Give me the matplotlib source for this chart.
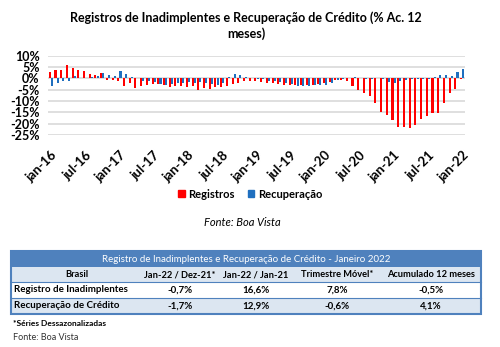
import numpy as np
import matplotlib.pyplot as plt
from matplotlib.patches import Patch, Rectangle

# % acumulado 12 meses, jan-16 .. jan-22 (mensal)
registros = [2.6, 3.5, 3.5, 5.9, 4.5, 3.5, 3.2, 1.9, 1.6, 2.3,
             -0.9, -0.9, -1.3, -3.4, -1.9, -4.4, -3.4, -2.8, -2.5, -2.3,
             -2.9, -3.7, -3.2, -3.2, -3.7, -3.4, -5.0, -4.4, -4.5, -3.7,
             -3.8, -3.4, -2.5, -1.9, -1.2, -1.3, -1.2, -1.6, -1.9, -2.2,
             -2.6, -2.9, -2.8, -2.9, -3.1, -3.1, -2.8, -2.6, -2.2, -1.5,
             -0.9, -0.7, -1.2, -3.4, -5.1, -6.6, -7.8, -11.0, -14.7, -16.3,
             -18.4, -21.4, -21.6, -21.7, -20.4, -17.8, -16.6, -15.4, -15.1, -11.0,
             -6.6, -4.5, -0.5]
recuperacao = [-3.4, -1.9, -1.2, -1.3, 1.2, 0.1, 0.1, 0.7, 1.0, 2.3,
               1.3, 1.2, 3.2, 2.0, 0.4, 0.0, -1.0, -1.2, -1.8, -2.3,
               -2.9, -2.6, -1.9, -2.2, -1.8, -2.2, -1.5, -1.9, -2.6, -2.9,
               -2.2, 0.7, 1.8, 1.5, 0.4, 0.1, -0.5, -0.5, -1.0, -1.0,
               -1.5, -2.2, -2.6, -3.4, -3.4, -3.5, -3.1, -2.9, -2.9, -2.2,
               -0.7, -0.3, 0.0, 0.4, 0.0, -0.4, -0.3, 0.0, -0.4, -1.5,
               -1.9, -1.3, -0.7, -0.4, -0.4, -0.4, -0.4, 0.7, 1.5, 1.5,
               1.0, 2.7, 4.1]
rotulos_x = ['jan-16', 'jul-16', 'jan-17', 'jul-17', 'jan-18', 'jul-18', 'jan-19',
             'jul-19', 'jan-20', 'jul-20', 'jan-21', 'jul-21', 'jan-22']

tab_titulo = 'Registro de Inadimplentes e Recuperação de Crédito - Janeiro 2022'
tab_cols = ['Brasil', 'Jan-22 / Dez-21*', 'Jan-22 / Jan-21', 'Trimestre Móvel*', 'Acumulado 12 meses']
tab_linhas = ['Registro de Inadimplentes', 'Recuperação de Crédito']
tab_valores = [['-0,7%', '16,6%', '7,8%', '-0,5%'],
               ['-1,7%', '12,9%', '-0,6%', '4,1%']]

plt.rcParams['font.family'] = ['Lato', 'DejaVu Sans']

fig = plt.figure(figsize=(5, 3.47), dpi=100)
# camada de fundo em pixels para titulo, legenda e tabela
bg = fig.add_axes([0, 0, 1, 1])
bg.set_xlim(0, 500)
bg.set_ylim(347, 0)
bg.axis('off')

ax = fig.add_axes([48 / 500, 1 - 135 / 347, 417 / 500, (135 - 55.7) / 347])
ax.set_facecolor('none')

x = np.arange(len(registros))
ax.bar(x - 0.19, registros, 0.36, color='#FF0000', zorder=3)
ax.bar(x + 0.19, recuperacao, 0.36, color='#1F6FBF', zorder=3)

ax.set_xlim(-0.5, len(registros) - 0.5)
ax.set_ylim(-25, 10)
ax.set_yticks(range(-25, 11, 5))
ax.set_yticklabels([f'{v}%' for v in range(-25, 11, 5)], fontsize=9, fontweight='bold')
ax.set_xticks(range(0, len(registros), 6))
ax.set_xticklabels(rotulos_x, rotation=45, ha='right', rotation_mode='anchor',
                   fontsize=9.5, fontweight='bold')
ax.tick_params(axis='y', length=0, pad=6)
ax.tick_params(axis='x', length=0, pad=10)
ax.grid(axis='y', color='#D9D9D9', linewidth=1.2, zorder=0)
for s in ax.spines.values():
    s.set_visible(False)

bg.text(246, 18, 'Registros de Inadimplentes e Recuperação de Crédito (% Ac. 12',
        ha='center', va='center', fontsize=9, fontweight='bold')
bg.text(246, 34, 'meses)', ha='center', va='center', fontsize=9, fontweight='bold')

fig.legend(handles=[Patch(color='#FF0000', label='Registros'),
                    Patch(color='#1F6FBF', label='Recuperação')],
           loc='center', bbox_to_anchor=(250 / 500, 1 - 194 / 347), ncol=2,
           frameon=False, handlelength=0.6, handleheight=0.6, handletextpad=0.3,
           columnspacing=1.2, prop={'weight': 'bold', 'size': 8})

bg.text(242, 222, 'Fonte: Boa Vista', ha='center', va='center', fontsize=8, style='italic')

# tabela
azul = '#4F81BD'
claro = '#DCE6F1'
esq, dir_ = 11, 481
topos = [251, 267, 282, 298, 314]
bg.add_patch(Rectangle((esq, topos[0]), dir_ - esq, topos[1] - topos[0], color=azul, lw=0))
bg.add_patch(Rectangle((esq, topos[1]), dir_ - esq, topos[2] - topos[1], color=claro, lw=0))
bg.add_patch(Rectangle((esq, topos[3]), dir_ - esq, topos[4] - topos[3], color=claro, lw=0))
bg.add_patch(Rectangle((esq, topos[0]), dir_ - esq, topos[4] - topos[0], fill=False,
                       edgecolor=azul, lw=1.5))
for yy in topos[2:4]:
    bg.plot([esq, dir_], [yy, yy], color=azul, lw=0.8)

bg.text(246, (topos[0] + topos[1]) / 2, tab_titulo, ha='center', va='center',
        color='white', fontsize=7)
centros = [77, 180, 256, 337, 431]
for cx, c in zip(centros, tab_cols):
    bg.text(cx, (topos[1] + topos[2]) / 2, c, ha='center', va='center',
            fontsize=6.7, fontweight='bold')
for i, (nome, vals) in enumerate(zip(tab_linhas, tab_valores)):
    cy = (topos[2 + i] + topos[3 + i]) / 2
    bg.text(14, cy, nome, ha='left', va='center', fontsize=7, fontweight='bold')
    for cx, v in zip(centros[1:], vals):
        bg.text(cx, cy, v, ha='center', va='center', fontsize=7, fontweight='bold')

bg.text(13, 324, '*Séries Dessazonalizadas', ha='left', va='center', fontsize=6,
        fontweight='bold')
bg.text(13, 338, 'Fonte: Boa Vista', ha='left', va='center', fontsize=6.5, color='#333333')

fig.savefig('out.png', dpi=100)
